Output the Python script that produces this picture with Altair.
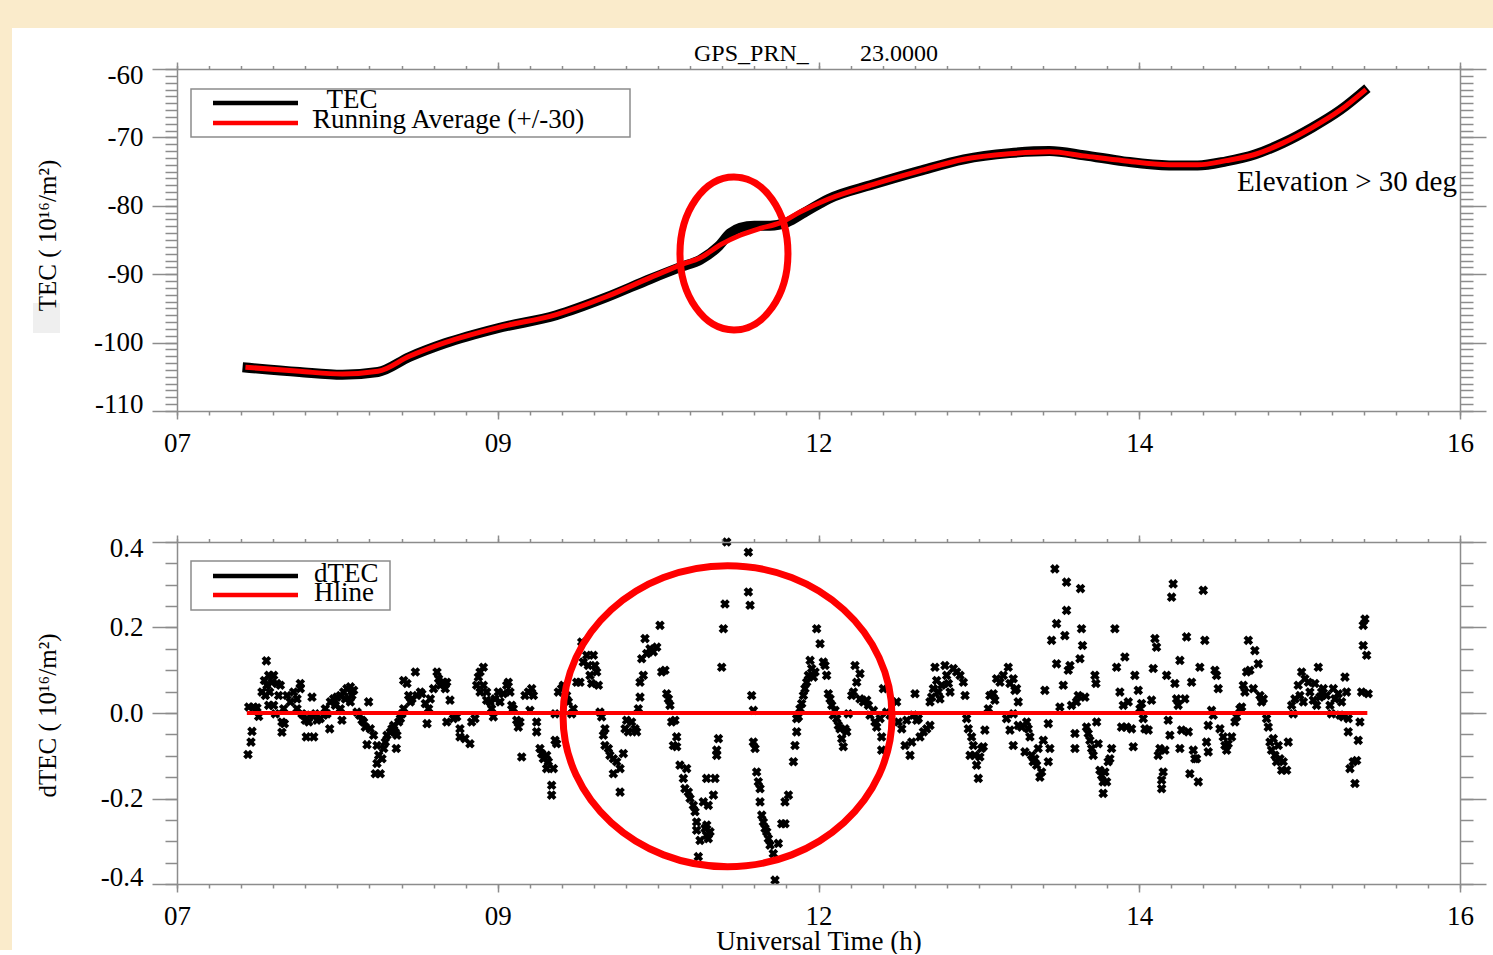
import altair as alt
import pandas as pd

FONT = "Liberation Serif"
AXIS_GREY = "#8c8c8c"
RED = "#ff0000"
BEIGE = "#FAEBCB"

# ---------------- top panel: TEC along the satellite pass ----------------
tec_raw_points = [
    (7.46, -103.6), (7.86, -104.3), (8.16, -104.7), (8.41, -104.3), (8.63, -102.1),
    (8.88, -100.1), (9.25, -97.9), (9.66, -96.0), (10.01, -93.4), (10.32, -90.7),
    (10.54, -88.9), (10.67, -87.9), (10.80, -85.9), (10.88, -84.0), (10.95, -83.2),
    (11.05, -82.9), (11.16, -82.9), (11.28, -82.4), (11.40, -81.0), (11.57, -79.0),
    (11.88, -76.9), (12.21, -74.9), (12.52, -73.2), (12.84, -72.3), (13.12, -72.0),
    (13.36, -72.6), (13.64, -73.5), (13.96, -74.1), (14.16, -74.1),
    (14.36, -73.5), (14.56, -72.5), (14.76, -70.8), (14.96, -68.6), (15.16, -66.0),
    (15.35, -62.8),
]
tec_avg_points = [
    (7.48, -103.6), (7.86, -104.2), (8.16, -104.6), (8.41, -104.2), (8.63, -102.0),
    (8.88, -100.0), (9.25, -97.8), (9.66, -95.9), (10.01, -93.3), (10.32, -90.5),
    (10.54, -88.6), (10.67, -87.6), (10.82, -85.6), (10.95, -84.3), (11.09, -83.3),
    (11.23, -82.5), (11.37, -80.9), (11.57, -79.0), (11.88, -76.9), (12.21, -74.9),
    (12.52, -73.2), (12.84, -72.4), (13.12, -72.1), (13.36, -72.7), (13.64, -73.4),
    (13.96, -74.0), (14.16, -74.0), (14.36, -73.4), (14.56, -72.5), (14.76, -70.8),
    (14.96, -68.6), (15.16, -66.0), (15.34, -63.0),
]

# ---------------- bottom panel: detrended TEC ----------------
dtec_part1 = [
    (7.498, -0.097), (7.519, -0.068), (7.526, -0.043), (7.503, 0.014), (7.538, 0.014), (7.573, -0.008),
    (7.561, 0.012), (7.627, 0.122), (7.643, 0.088), (7.613, 0.076), (7.631, 0.065), (7.666, 0.072),
    (7.678, 0.088), (7.596, 0.049), (7.620, 0.041), (7.650, 0.049), (7.643, 0.018), (7.678, 0.018),
    (7.690, -0.002), (7.701, 0.069), (7.725, 0.065), (7.713, 0.041), (7.748, 0.010), (7.736, -0.021),
    (7.736, -0.045), (7.753, -0.025), (7.772, 0.041), (7.795, 0.026), (7.818, 0.049), (7.842, 0.033),
    (7.865, 0.069), (7.865, 0.057), (7.842, 0.010), (7.877, -0.002), (7.888, -0.005), (7.900, -0.017),
    (7.924, -0.021), (7.907, -0.056), (7.959, -0.056), (7.947, 0.037), (7.935, -0.005), (7.970, -0.002),
    (7.982, -0.017), (8.005, -0.013), (8.029, -0.005), (8.052, -0.002), (8.040, 0.010), (8.071, -0.037),
    (8.076, 0.026), (8.099, 0.033), (8.111, 0.018), (8.122, 0.037), (8.146, 0.041), (8.146, 0.010),
    (8.157, -0.017), (8.169, 0.049), (8.181, 0.033), (8.192, 0.057), (8.216, 0.061), (8.239, 0.053),
    (8.227, 0.041), (8.216, 0.026), (8.263, 0.002), (8.281, -0.005), (8.298, -0.017), (8.309, -0.021),
    (8.321, -0.033), (8.344, 0.026), (8.333, -0.074), (8.356, -0.037), (8.379, -0.052), (8.403, -0.076),
    (8.415, -0.099), (8.403, -0.118), (8.426, -0.142), (8.391, -0.142), (8.438, -0.107), (8.450, -0.083),
    (8.461, -0.068), (8.473, -0.052), (8.496, -0.045), (8.508, -0.037), (8.520, -0.029), (8.531, -0.045),
    (8.543, -0.052), (8.538, -0.083), (8.555, -0.021), (8.567, -0.013), (8.578, -0.002), (8.590, 0.010),
    (8.590, 0.076), (8.613, 0.069), (8.625, 0.041), (8.637, 0.026), (8.648, 0.033), (8.672, 0.096),
    (8.683, 0.041), (8.707, 0.049), (8.718, 0.045), (8.742, 0.022), (8.754, -0.025), (8.765, 0.010),
    (8.777, 0.033), (8.800, 0.057), (8.824, 0.096), (8.835, 0.080), (8.847, 0.065), (8.870, 0.072),
    (8.882, 0.057),
]
dtec_part2 = [
    (8.892, 0.072), (8.915, 0.030), (8.892, -0.021), (8.939, -0.013), (8.962, -0.009), (8.985, -0.037),
    (8.985, -0.056), (9.020, -0.060), (9.055, -0.072), (9.067, -0.021), (9.090, -0.013), (9.102, 0.065),
    (9.114, 0.084), (9.126, 0.096), (9.149, 0.107), (9.126, 0.049), (9.149, 0.065), (9.172, 0.049),
    (9.172, 0.030), (9.196, 0.026), (9.207, 0.010), (9.219, -0.009), (9.231, 0.033), (9.254, 0.049),
    (9.266, 0.026), (9.289, 0.045), (9.313, 0.065), (9.324, 0.072), (9.336, 0.049), (9.348, 0.018),
    (9.359, 0.010), (9.383, -0.017), (9.394, -0.033), (9.406, -0.021), (9.418, -0.103), (9.441, 0.041),
    (9.465, 0.049), (9.476, 0.006), (9.488, 0.057), (9.500, 0.041), (9.523, -0.021), (9.523, -0.044),
    (9.546, -0.083), (9.558, -0.095), (9.570, -0.107), (9.593, -0.099), (9.593, -0.130), (9.605, -0.114),
    (9.628, -0.169), (9.628, -0.192), (9.640, -0.130), (9.652, -0.064), (9.663, -0.072), (9.652, -0.002),
    (9.675, 0.049), (9.698, 0.057), (9.710, 0.065), (9.733, 0.041), (9.745, 0.026), (9.769, -0.002),
    (9.780, 0.010), (9.804, 0.072), (9.827, 0.072), (9.839, 0.166), (9.850, 0.119), (9.874, 0.135),
    (9.885, 0.111), (9.897, 0.088), (9.909, 0.069), (9.921, 0.135), (9.932, 0.111), (9.944, 0.096),
    (9.956, 0.065), (9.967, 0.002), (9.979, -0.009), (9.991, -0.052), (10.002, -0.037), (10.002, -0.076),
    (10.026, -0.083), (10.037, -0.099), (10.061, -0.107), (10.061, -0.142), (10.084, -0.114), (10.108, -0.130),
    (10.108, -0.185), (10.131, -0.095), (10.143, -0.037), (10.154, -0.017), (10.166, -0.044), (10.189, -0.021),
    (10.213, -0.037), (10.224, -0.044), (10.236, 0.010), (10.248, 0.037), (10.248, 0.072), (10.271, 0.088),
    (10.283, 0.174), (10.260, 0.127), (10.295, 0.139), (10.318, 0.150), (10.341, 0.143), (10.365, 0.154),
    (10.388, 0.205), (10.400, 0.096), (10.423, 0.100), (10.435, 0.045), (10.447, 0.033), (10.458, 0.018),
    (10.470, -0.021), (10.493, -0.017), (10.505, -0.056), (10.482, -0.076), (10.505, -0.079), (10.528, -0.122),
    (10.552, -0.153), (10.575, -0.130), (10.563, -0.177), (10.587, -0.185), (10.599, -0.200), (10.622, -0.216),
    (10.634, -0.231), (10.645, -0.274), (10.645, -0.255), (10.669, -0.298), (10.657, -0.336), (10.692, -0.208),
    (10.715, -0.153), (10.704, -0.270), (10.715, -0.286),
]
dtec_part3 = [
    (10.716, -0.262), (10.727, -0.294), (10.739, -0.278), (10.727, -0.216), (10.763, -0.192), (10.774, -0.153),
    (10.786, -0.099), (10.786, -0.087), (10.798, -0.060), (10.821, 0.107), (10.833, 0.197), (10.844, 0.255),
    (10.856, 0.400), (11.008, 0.376), (11.008, 0.283), (11.020, 0.252), (11.031, 0.041), (11.043, 0.006),
    (11.043, -0.068), (11.055, -0.083), (11.066, -0.138), (11.078, -0.161), (11.090, -0.177), (11.090, -0.208),
    (11.102, -0.239), (11.113, -0.255), (11.125, -0.270), (11.137, -0.278), (11.148, -0.294), (11.160, -0.309),
    (11.183, -0.329), (11.218, -0.305), (11.195, -0.391), (11.242, -0.259), (11.265, -0.259), (11.265, -0.208),
    (11.289, -0.192), (11.324, -0.114), (11.335, -0.076), (11.347, -0.044), (11.347, -0.013), (11.359, -0.009),
    (11.370, 0.010), (11.382, 0.022), (11.394, 0.041), (11.405, 0.057), (11.417, 0.072), (11.429, 0.088),
    (11.441, 0.123), (11.452, 0.104), (11.464, 0.084), (11.476, 0.096), (11.487, 0.197), (11.511, 0.162),
    (11.534, 0.119), (11.546, 0.111), (11.557, 0.088), (11.569, 0.045), (11.581, 0.033), (11.593, 0.018),
    (11.604, -0.005), (11.616, 0.006), (11.628, -0.013), (11.639, -0.029), (11.651, -0.037), (11.663, -0.060),
    (11.674, -0.079), (11.686, -0.037), (11.698, -0.044), (11.709, -0.002), (11.733, 0.041), (11.745, 0.049),
    (11.756, 0.111), (11.768, 0.072), (11.791, 0.092), (11.791, 0.033), (11.815, 0.026), (11.838, 0.030),
    (11.850, 0.018), (11.861, -0.005), (11.885, 0.006), (11.896, -0.021), (11.908, -0.033), (11.932, -0.013),
    (11.943, -0.056), (11.943, -0.087), (11.955, 0.057), (11.978, 0.002), (12.002, -0.005), (12.048, 0.026),
    (12.060, -0.021), (12.084, -0.037), (12.107, -0.076), (12.119, -0.017), (12.142, -0.099), (12.154, -0.068),
    (12.165, -0.005), (12.177, 0.045), (12.189, -0.017), (12.200, -0.013), (12.212, -0.056), (12.236, -0.044),
    (12.259, -0.037), (12.282, -0.029), (12.282, 0.026), (12.294, 0.037), (12.306, 0.057), (12.317, 0.107),
    (12.329, 0.076), (12.341, 0.049), (12.352, 0.033), (12.364, 0.065), (12.387, 0.111), (12.399, 0.088),
    (12.411, 0.069), (12.423, 0.049), (12.446, 0.104), (12.469, 0.096), (12.493, 0.088), (12.516, 0.072),
    (12.528, 0.041), (12.539, -0.013), (12.551, -0.037), (12.563, -0.099),
]
dtec_part4 = [
    (12.574, -0.056), (12.586, -0.076), (12.597, -0.099), (12.609, -0.122), (12.621, -0.153), (12.632, -0.103),
    (12.644, -0.083), (12.656, -0.079), (12.667, -0.040), (12.691, 0.010), (12.702, 0.041), (12.726, 0.045),
    (12.737, 0.030), (12.749, 0.080), (12.773, 0.072), (12.796, 0.088), (12.831, 0.107), (12.843, 0.069),
    (12.866, 0.080), (12.878, 0.053), (12.889, 0.057), (12.901, 0.026), (12.819, -0.013), (12.843, -0.040),
    (12.866, -0.076), (12.866, -0.002), (12.901, -0.029), (12.925, -0.033), (12.948, -0.091), (12.960, -0.021),
    (12.971, -0.037), (12.983, -0.056), (12.995, -0.099), (13.006, -0.114), (13.018, -0.107), (13.030, -0.122),
    (13.041, -0.083), (13.053, -0.150), (13.065, -0.138), (13.077, -0.064), (13.088, 0.053), (13.112, -0.025),
    (13.112, -0.114), (13.123, -0.083), (13.135, 0.170), (13.158, 0.337), (13.170, 0.209), (13.170, 0.115),
    (13.193, 0.014), (13.217, 0.065), (13.228, 0.181), (13.240, 0.306), (13.240, 0.240), (13.252, 0.100),
    (13.264, 0.111), (13.275, 0.018), (13.299, -0.048), (13.299, -0.083), (13.310, 0.026), (13.322, 0.041),
    (13.334, 0.127), (13.338, 0.291), (13.345, 0.197), (13.352, 0.158), (13.369, 0.037), (13.380, -0.033),
    (13.392, -0.048), (13.404, -0.064), (13.416, -0.083), (13.427, -0.099), (13.439, 0.088), (13.446, 0.069),
    (13.451, -0.021), (13.462, -0.072), (13.474, -0.134), (13.486, -0.146), (13.497, -0.161), (13.497, -0.188),
    (13.509, -0.138), (13.521, -0.161), (13.532, -0.114), (13.544, -0.107), (13.556, -0.083), (13.579, 0.197),
    (13.591, 0.107), (13.614, 0.049), (13.626, -0.033), (13.638, 0.018), (13.649, 0.131), (13.661, -0.033),
    (13.673, 0.026), (13.696, -0.037), (13.708, -0.079), (13.719, 0.088), (13.743, 0.053), (13.755, 0.010),
    (13.766, 0.022), (13.778, -0.013), (13.790, -0.037), (13.813, -0.040), (13.836, 0.030), (13.848, 0.104),
    (13.860, 0.174), (13.871, 0.154), (13.883, -0.099), (13.895, -0.083), (13.907, -0.157), (13.907, -0.177),
    (13.918, -0.138), (13.930, -0.087), (13.942, 0.088), (13.953, -0.017), (13.965, -0.052), (13.977, 0.271),
    (13.988, 0.302), (14.000, 0.069), (14.012, 0.033), (14.023, 0.018), (14.035, 0.123), (14.035, -0.083),
    (14.047, -0.040), (14.070, 0.033), (14.082, 0.178), (14.094, -0.044), (14.105, -0.142), (14.117, 0.072),
    (14.129, -0.087), (14.140, -0.107), (14.152, -0.107), (14.164, -0.161), (14.175, 0.107), (14.199, 0.287),
    (14.210, 0.170), (14.222, -0.068), (14.234, -0.091), (14.234, -0.029), (14.257, 0.006), (14.269, -0.005),
    (14.281, 0.100), (14.292, 0.088), (14.304, 0.057), (14.316, -0.037), (14.339, -0.056), (14.351, -0.076),
    (14.363, -0.087), (14.374, -0.072),
]
dtec_part5 = [
    (14.398, -0.056), (14.421, -0.021), (14.433, -0.009), (14.456, 0.010), (14.468, 0.014), (14.480, 0.065),
    (14.491, 0.049), (14.503, 0.096), (14.515, 0.170), (14.526, 0.100), (14.550, 0.057), (14.561, 0.146),
    (14.585, 0.115), (14.597, 0.041), (14.608, 0.026), (14.620, 0.033), (14.643, -0.013), (14.655, -0.033),
    (14.667, -0.068), (14.678, -0.087), (14.690, -0.060), (14.702, -0.099), (14.713, -0.114), (14.725, -0.076),
    (14.737, -0.107), (14.749, -0.134), (14.760, -0.114), (14.784, -0.134), (14.795, -0.068), (14.819, 0.018),
    (14.830, -0.002), (14.842, 0.033), (14.865, 0.065), (14.877, 0.041), (14.889, 0.096), (14.901, 0.026),
    (14.912, 0.080), (14.936, 0.072), (14.947, 0.049), (14.971, 0.030), (14.982, 0.069), (14.994, 0.018),
    (15.006, 0.107), (15.017, 0.037), (15.029, 0.049), (15.041, 0.057), (15.064, 0.041), (15.088, 0.018),
    (15.099, -0.002), (15.111, 0.057), (15.123, 0.033), (15.146, 0.045), (15.158, -0.005), (15.169, 0.026),
    (15.181, -0.009), (15.193, 0.084), (15.204, 0.049), (15.216, -0.013), (15.216, -0.044), (15.228, -0.130),
    (15.251, -0.114), (15.263, -0.165), (15.275, -0.111), (15.286, -0.064), (15.298, -0.021), (15.310, 0.049),
    (15.321, 0.158), (15.321, 0.205), (15.333, 0.220), (15.345, 0.135), (15.356, 0.045),
]
hline_span = (7.49, 15.35)
hline_level = 0.0

# ---------------- axes ----------------
x_domain = [7, 16]
x_major = [7, 9.25, 11.5, 13.75, 16]
x_labels = ["07", "09", "12", "14", "16"]
x_minor = [round(7 + 0.225 * i, 4) for i in range(41)]

tec_domain = [-110, -60]
tec_major = [-110, -100, -90, -80, -70, -60]
tec_minor = list(range(-110, -59))

dtec_domain = [-0.4, 0.4]
dtec_major = [-0.4, -0.2, 0.0, 0.2, 0.4]
dtec_minor = [round(-0.4 + 0.05 * i, 2) for i in range(17)]

# annotation ellipses (centre in data units, radii in pixels)
top_ellipse = {"h": 10.907, "v": -86.97, "rx": 54, "ry": 76.5}
bottom_ellipse = {"h": 10.862, "v": -0.0075, "rx": 164.5, "ry": 150.5}

W, H = 1283, 342

x_label_expr = " : ".join(
    f"datum.value == {v} ? '{l}'" for v, l in zip(x_major[:-1], x_labels[:-1])
) + f" : '{x_labels[-1]}'"
tec_label_expr = "datum.value < 0 ? '-' + format(-datum.value, 'd') : format(datum.value, 'd')"
dtec_label_expr = "datum.value < 0 ? '-' + format(-datum.value, '.1f') : format(datum.value, '.1f')"

one = alt.Data(values=[{"k": 0}])


def ellipse_path(a):
    k = 0.5523
    ak = a * k
    return (f"M {a:.4f} 0 C {a:.4f} {k} {ak:.4f} 1 0 1 C {-ak:.4f} 1 {-a:.4f} {k} {-a:.4f} 0 "
            f"C {-a:.4f} {-k} {-ak:.4f} -1 0 -1 C {ak:.4f} -1 {a:.4f} {-k} {a:.4f} 0 Z")


def px_rect(x, x2, y, y2, **kw):
    return alt.Chart(one).mark_rect(**kw).encode(
        x=alt.value(x), x2=alt.value(x2), y=alt.value(y), y2=alt.value(y2))


def px_rule(x, x2, y, color, width):
    return alt.Chart(one).mark_rule(color=color, strokeWidth=width).encode(
        x=alt.value(x), x2=alt.value(x2), y=alt.value(y))


def px_text(text, x, y, size, align="left"):
    return alt.Chart(one).mark_text(
        text=text, font=FONT, fontSize=size, align=align, baseline="alphabetic", color="black"
    ).encode(x=alt.value(x), y=alt.value(y))


def xscale():
    return alt.Scale(domain=x_domain, nice=False, zero=False)


def axis_layers(y_domain, y_major, y_minor, y_expr, y_title, y_title_y, x_title):
    frame = pd.DataFrame({"h": x_domain, "v": y_domain})
    ys = alt.Scale(domain=y_domain, nice=False, zero=False)
    base = alt.Chart(frame).mark_point(opacity=0)
    bm = dict(orient="bottom", values=x_major, tickSize=8, labelExpr=x_label_expr,
              labelFlush=False, labelPadding=11, labelOverlap=False, zindex=1)
    if x_title:
        bm.update(title=x_title, titleY=57, titleBaseline="middle", titleFontSize=27)
    else:
        bm.update(title=None)
    return [
        base.encode(
            x=alt.X("h:Q", scale=xscale(), axis=alt.Axis(**bm)),
            y=alt.Y("v:Q", scale=ys, axis=alt.Axis(
                orient="left", values=y_major, tickSize=25, labelExpr=y_expr,
                labelFlush=True, labelFlushOffset=7, labelPadding=9, labelOverlap=False,
                title=y_title, titleX=-130, titleY=y_title_y, titleAngle=270,
                titleAlign="center", titleBaseline="middle", titleFontSize=25, zindex=1)),
        ),
        base.encode(
            x=alt.X("h:Q", scale=xscale(), axis=alt.Axis(
                orient="bottom", values=x_minor, tickSize=4, labels=False, domain=False,
                title=None, zindex=1)),
            y=alt.Y("v:Q", scale=ys, axis=alt.Axis(
                orient="left", values=y_minor, tickSize=12, labels=False, domain=False,
                title=None, zindex=1)),
        ),
        base.encode(
            x=alt.X("h:Q", scale=xscale(), axis=alt.Axis(
                orient="top", values=x_major, tickSize=7, labels=False, title=None, zindex=1)),
            y=alt.Y("v:Q", scale=ys, axis=alt.Axis(
                orient="right", values=y_major, tickSize=26, labels=False, title=None, zindex=1)),
        ),
        base.encode(
            x=alt.X("h:Q", scale=xscale(), axis=alt.Axis(
                orient="top", values=x_minor, tickSize=3.5, labels=False, domain=False,
                title=None, zindex=1)),
            y=alt.Y("v:Q", scale=ys, axis=alt.Axis(
                orient="right", values=y_minor, tickSize=13, labels=False, domain=False,
                title=None, zindex=1)),
        ),
    ]


def ellipse_layer(e, y_domain):
    ys = alt.Scale(domain=y_domain, nice=False, zero=False)
    return alt.Chart(pd.DataFrame([{"h": e["h"], "v": e["v"]}])).mark_point(
        shape=ellipse_path(e["rx"] / e["ry"]), size=(2 * e["ry"]) ** 2, filled=False,
        color=RED, strokeWidth=7, opacity=1,
    ).encode(
        x=alt.X("h:Q", scale=xscale(), axis=None),
        y=alt.Y("v:Q", scale=ys, axis=None),
    )


# ---------------- top panel ----------------
ys_top = alt.Scale(domain=tec_domain, nice=False, zero=False)
raw_df = pd.DataFrame(tec_raw_points, columns=["h", "v"])
avg_df = pd.DataFrame(tec_avg_points, columns=["h", "v"])

raw_line = alt.Chart(raw_df).mark_line(color="black", strokeWidth=10, interpolate="monotone").encode(
    x=alt.X("h:Q", scale=xscale(), axis=None), y=alt.Y("v:Q", scale=ys_top, axis=None))
avg_line = alt.Chart(avg_df).mark_line(color=RED, strokeWidth=5, interpolate="monotone").encode(
    x=alt.X("h:Q", scale=xscale(), axis=None), y=alt.Y("v:Q", scale=ys_top, axis=None))

top = alt.layer(
    # parchment margins of the page (top strip and left strip)
    px_rect(-177, 1316, -69, -41, fill=BEIGE),
    px_rect(-177, -165, -69, 881, fill=BEIGE),
    px_rect(-144, -117, 234, 264, fill="#efefef"),
    *axis_layers(tec_domain, tec_major, tec_minor, tec_label_expr,
                 "TEC ( 10\u00b9\u2076/m\u00b2)", 166, None),
    px_rect(14, 453, 20, 68, fill="white", stroke=AXIS_GREY, strokeWidth=1.5),
    px_rule(36, 121, 34, "black", 4.5),
    px_rule(36, 121, 54, RED, 4.5),
    px_text("_TEC", 136, 39, 27),
    px_text("Running Average (+/-30)", 136, 59, 27),
    raw_line,
    avg_line,
    px_text("Elevation > 30 deg", 1280, 122, 29, align="right"),
    px_text("GPS_PRN_", 517, -8, 24),
    px_text("23.0000", 683, -8, 24),
    ellipse_layer(top_ellipse, tec_domain),
).properties(width=W, height=H).resolve_axis(x="independent", y="independent")

# ---------------- bottom panel ----------------
ys_bot = alt.Scale(domain=dtec_domain, nice=False, zero=False)
dtec_df = pd.DataFrame(dtec_part1 + dtec_part2 + dtec_part3 + dtec_part4 + dtec_part5,
                       columns=["h", "v"])
hline_df = pd.DataFrame([{"h0": hline_span[0], "h1": hline_span[1], "v": hline_level}])

scatter = alt.Chart(dtec_df).mark_point(
    shape="cross", angle=45, filled=True, size=95, color="black", opacity=1
).encode(x=alt.X("h:Q", scale=xscale(), axis=None), y=alt.Y("v:Q", scale=ys_bot, axis=None))

hline = alt.Chart(hline_df).mark_rule(color=RED, strokeWidth=4).encode(
    x=alt.X("h0:Q", scale=xscale(), axis=None), x2="h1:Q",
    y=alt.Y("v:Q", scale=ys_bot, axis=None))

bottom = alt.layer(
    *axis_layers(dtec_domain, dtec_major, dtec_minor, dtec_label_expr,
                 "dTEC ( 10\u00b9\u2076/m\u00b2)", 173, "Universal Time (h)"),
    px_rect(14, 213, 19, 68, fill="white", stroke=AXIS_GREY, strokeWidth=1.5),
    px_rule(36, 121, 34, "black", 4.5),
    px_rule(36, 121, 53, RED, 4.5),
    px_text("dTEC", 137, 40, 27),
    px_text("Hline", 137, 59, 27),
    scatter,
    hline,
    ellipse_layer(bottom_ellipse, dtec_domain),
).properties(width=W, height=H).resolve_axis(x="independent", y="independent")

chart = alt.vconcat(top, bottom, spacing=131, bounds="flush").properties(
    background="white",
    padding={"left": 0, "top": 0, "right": 0, "bottom": 0},
).configure_view(strokeOpacity=0).configure_axis(
    grid=False, zindex=1,
    domainColor=AXIS_GREY, domainWidth=1.5, tickColor=AXIS_GREY, tickWidth=1.5,
    labelFont=FONT, labelFontSize=27, labelColor="black",
    titleFont=FONT, titleColor="black", titleFontWeight="normal",
)

chart.save("out.html", embed_options={"renderer": "svg", "actions": False})
